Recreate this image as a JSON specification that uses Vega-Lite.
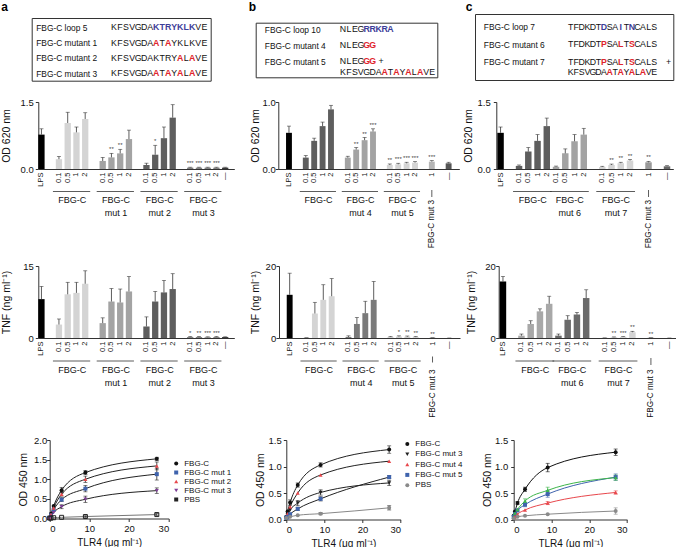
{
"$schema": "https://vega.github.io/schema/vega-lite/v6.json",
"padding": {"left": 0, "top": 0, "right": 0, "bottom": 0},
"background": "white",
"config": {
 "font": "Liberation Sans",
 "view": {"stroke": null},
 "axis": {"grid": false, "domainColor": "#333", "tickColor": "#333", "labelColor": "#111", "titleColor": "#111", "labelFont": "Liberation Sans", "titleFont": "Liberation Sans", "titleFontWeight": "normal", "labelFontSize": 9.5, "titleFontSize": 10.5, "tickSize": 3, "domainWidth": 1, "tickWidth": 1},
 "legend": {"labelFont": "Liberation Sans", "labelColor": "#111"}
},
"datasets": {
 "qA": [
  {"r":"L","i":0,"c":"K","k":"n"},{"r":"L","i":1,"c":"F","k":"n"},{"r":"L","i":2,"c":"S","k":"n"},{"r":"L","i":3,"c":"V","k":"n"},{"r":"L","i":4,"c":"G","k":"n"},{"r":"L","i":5,"c":"D","k":"n"},{"r":"L","i":6,"c":"A","k":"n"},{"r":"L","i":7,"c":"K","k":"l"},{"r":"L","i":8,"c":"T","k":"l"},{"r":"L","i":9,"c":"R","k":"l"},{"r":"L","i":10,"c":"Y","k":"l"},{"r":"L","i":11,"c":"K","k":"l"},{"r":"L","i":12,"c":"L","k":"l"},{"r":"L","i":13,"c":"K","k":"l"},{"r":"L","i":14,"c":"V","k":"n"},{"r":"L","i":15,"c":"E","k":"n"},
  {"r":"M1","i":0,"c":"K","k":"n"},{"r":"M1","i":1,"c":"F","k":"n"},{"r":"M1","i":2,"c":"S","k":"n"},{"r":"M1","i":3,"c":"V","k":"n"},{"r":"M1","i":4,"c":"G","k":"n"},{"r":"M1","i":5,"c":"D","k":"n"},{"r":"M1","i":6,"c":"A","k":"n"},{"r":"M1","i":7,"c":"A","k":"m"},{"r":"M1","i":8,"c":"T","k":"n"},{"r":"M1","i":9,"c":"A","k":"m"},{"r":"M1","i":10,"c":"Y","k":"n"},{"r":"M1","i":11,"c":"K","k":"n"},{"r":"M1","i":12,"c":"L","k":"n"},{"r":"M1","i":13,"c":"K","k":"n"},{"r":"M1","i":14,"c":"V","k":"n"},{"r":"M1","i":15,"c":"E","k":"n"},
  {"r":"M2","i":0,"c":"K","k":"n"},{"r":"M2","i":1,"c":"F","k":"n"},{"r":"M2","i":2,"c":"S","k":"n"},{"r":"M2","i":3,"c":"V","k":"n"},{"r":"M2","i":4,"c":"G","k":"n"},{"r":"M2","i":5,"c":"D","k":"n"},{"r":"M2","i":6,"c":"A","k":"n"},{"r":"M2","i":7,"c":"K","k":"n"},{"r":"M2","i":8,"c":"T","k":"n"},{"r":"M2","i":9,"c":"R","k":"n"},{"r":"M2","i":10,"c":"Y","k":"n"},{"r":"M2","i":11,"c":"A","k":"m"},{"r":"M2","i":12,"c":"L","k":"n"},{"r":"M2","i":13,"c":"A","k":"m"},{"r":"M2","i":14,"c":"V","k":"n"},{"r":"M2","i":15,"c":"E","k":"n"},
  {"r":"M3","i":0,"c":"K","k":"n"},{"r":"M3","i":1,"c":"F","k":"n"},{"r":"M3","i":2,"c":"S","k":"n"},{"r":"M3","i":3,"c":"V","k":"n"},{"r":"M3","i":4,"c":"G","k":"n"},{"r":"M3","i":5,"c":"D","k":"n"},{"r":"M3","i":6,"c":"A","k":"n"},{"r":"M3","i":7,"c":"A","k":"m"},{"r":"M3","i":8,"c":"T","k":"n"},{"r":"M3","i":9,"c":"A","k":"m"},{"r":"M3","i":10,"c":"Y","k":"n"},{"r":"M3","i":11,"c":"A","k":"m"},{"r":"M3","i":12,"c":"L","k":"n"},{"r":"M3","i":13,"c":"A","k":"m"},{"r":"M3","i":14,"c":"V","k":"n"},{"r":"M3","i":15,"c":"E","k":"n"}
 ],
 "qB": [
  {"r":"L","i":0,"c":"N","k":"n"},{"r":"L","i":1,"c":"L","k":"n"},{"r":"L","i":2,"c":"E","k":"n"},{"r":"L","i":3,"c":"G","k":"n"},{"r":"L","i":4,"c":"R","k":"l"},{"r":"L","i":5,"c":"R","k":"l"},{"r":"L","i":6,"c":"K","k":"l"},{"r":"L","i":7,"c":"R","k":"l"},{"r":"L","i":8,"c":"A","k":"l"},
  {"r":"M4","i":0,"c":"N","k":"n"},{"r":"M4","i":1,"c":"L","k":"n"},{"r":"M4","i":2,"c":"E","k":"n"},{"r":"M4","i":3,"c":"G","k":"n"},{"r":"M4","i":4,"c":"G","k":"m"},{"r":"M4","i":5,"c":"G","k":"m"},
  {"r":"M5","i":0,"c":"N","k":"n"},{"r":"M5","i":1,"c":"L","k":"n"},{"r":"M5","i":2,"c":"E","k":"n"},{"r":"M5","i":3,"c":"G","k":"n"},{"r":"M5","i":4,"c":"G","k":"m"},{"r":"M5","i":5,"c":"G","k":"m"},{"r":"M5","i":6.4,"c":"+","k":"n"},
  {"r":"M5","p":2,"i":0,"c":"K","k":"n"},{"r":"M5","p":2,"i":1,"c":"F","k":"n"},{"r":"M5","p":2,"i":2,"c":"S","k":"n"},{"r":"M5","p":2,"i":3,"c":"V","k":"n"},{"r":"M5","p":2,"i":4,"c":"G","k":"n"},{"r":"M5","p":2,"i":5,"c":"D","k":"n"},{"r":"M5","p":2,"i":6,"c":"A","k":"n"},{"r":"M5","p":2,"i":7,"c":"A","k":"m"},{"r":"M5","p":2,"i":8,"c":"T","k":"n"},{"r":"M5","p":2,"i":9,"c":"A","k":"m"},{"r":"M5","p":2,"i":10,"c":"Y","k":"n"},{"r":"M5","p":2,"i":11,"c":"A","k":"m"},{"r":"M5","p":2,"i":12,"c":"L","k":"n"},{"r":"M5","p":2,"i":13,"c":"A","k":"m"},{"r":"M5","p":2,"i":14,"c":"V","k":"n"},{"r":"M5","p":2,"i":15,"c":"E","k":"n"}
 ],
 "qC": [
  {"r":"L","i":0,"c":"T","k":"n"},{"r":"L","i":1,"c":"F","k":"n"},{"r":"L","i":2,"c":"D","k":"n"},{"r":"L","i":3,"c":"K","k":"n"},{"r":"L","i":4,"c":"D","k":"n"},{"r":"L","i":5,"c":"T","k":"n"},{"r":"L","i":6,"c":"D","k":"l"},{"r":"L","i":7,"c":"S","k":"n"},{"r":"L","i":8,"c":"A","k":"n"},{"r":"L","i":9,"c":"I","k":"l"},{"r":"L","i":10,"c":"T","k":"n"},{"r":"L","i":11,"c":"N","k":"l"},{"r":"L","i":12,"c":"C","k":"n"},{"r":"L","i":13,"c":"A","k":"n"},{"r":"L","i":14,"c":"L","k":"n"},{"r":"L","i":15,"c":"S","k":"n"},
  {"r":"M6","i":0,"c":"T","k":"n"},{"r":"M6","i":1,"c":"F","k":"n"},{"r":"M6","i":2,"c":"D","k":"n"},{"r":"M6","i":3,"c":"K","k":"n"},{"r":"M6","i":4,"c":"D","k":"n"},{"r":"M6","i":5,"c":"T","k":"n"},{"r":"M6","i":6,"c":"P","k":"m"},{"r":"M6","i":7,"c":"S","k":"n"},{"r":"M6","i":8,"c":"A","k":"n"},{"r":"M6","i":9,"c":"L","k":"m"},{"r":"M6","i":10,"c":"T","k":"n"},{"r":"M6","i":11,"c":"S","k":"m"},{"r":"M6","i":12,"c":"C","k":"n"},{"r":"M6","i":13,"c":"A","k":"n"},{"r":"M6","i":14,"c":"L","k":"n"},{"r":"M6","i":15,"c":"S","k":"n"},
  {"r":"M7","i":0,"c":"T","k":"n"},{"r":"M7","i":1,"c":"F","k":"n"},{"r":"M7","i":2,"c":"D","k":"n"},{"r":"M7","i":3,"c":"K","k":"n"},{"r":"M7","i":4,"c":"D","k":"n"},{"r":"M7","i":5,"c":"T","k":"n"},{"r":"M7","i":6,"c":"P","k":"m"},{"r":"M7","i":7,"c":"S","k":"n"},{"r":"M7","i":8,"c":"A","k":"n"},{"r":"M7","i":9,"c":"L","k":"m"},{"r":"M7","i":10,"c":"T","k":"n"},{"r":"M7","i":11,"c":"S","k":"m"},{"r":"M7","i":12,"c":"C","k":"n"},{"r":"M7","i":13,"c":"A","k":"n"},{"r":"M7","i":14,"c":"L","k":"n"},{"r":"M7","i":15,"c":"S","k":"n"},{"r":"M7","i":17.6,"c":"+","k":"n"},
  {"r":"M7","p":2,"i":0,"c":"K","k":"n"},{"r":"M7","p":2,"i":1,"c":"F","k":"n"},{"r":"M7","p":2,"i":2,"c":"S","k":"n"},{"r":"M7","p":2,"i":3,"c":"V","k":"n"},{"r":"M7","p":2,"i":4,"c":"G","k":"n"},{"r":"M7","p":2,"i":5,"c":"D","k":"n"},{"r":"M7","p":2,"i":6,"c":"A","k":"n"},{"r":"M7","p":2,"i":7,"c":"A","k":"m"},{"r":"M7","p":2,"i":8,"c":"T","k":"n"},{"r":"M7","p":2,"i":9,"c":"A","k":"m"},{"r":"M7","p":2,"i":10,"c":"Y","k":"n"},{"r":"M7","p":2,"i":11,"c":"A","k":"m"},{"r":"M7","p":2,"i":12,"c":"L","k":"n"},{"r":"M7","p":2,"i":13,"c":"A","k":"m"},{"r":"M7","p":2,"i":14,"c":"V","k":"n"},{"r":"M7","p":2,"i":15,"c":"E","k":"n"}
 ],
 "oA": [
  {"k":"LPS","g":"LPS","v":0.77,"h":0.9},
  {"k":"F|0.1","g":"F","v":0.22,"h":0.28},{"k":"F|0.5","g":"F","v":1.03,"h":1.27},{"k":"F|1","g":"F","v":0.82,"h":0.94},{"k":"F|2","g":"F","v":1.12,"h":1.26},
  {"k":"m1|0.1","g":"m1","v":0.18,"h":0.26},{"k":"m1|0.5","g":"m1","v":0.26,"h":0.35,"s":"**"},{"k":"m1|1","g":"m1","v":0.35,"h":0.44,"s":"**"},{"k":"m1|2","g":"m1","v":0.67,"h":0.87},
  {"k":"m2|0.1","g":"m2","v":0.09,"h":0.13},{"k":"m2|0.5","g":"m2","v":0.32,"h":0.53,"s":"*"},{"k":"m2|1","g":"m2","v":0.69,"h":0.94},{"k":"m2|2","g":"m2","v":1.15,"h":1.44},
  {"k":"m3|0.1","g":"m3","v":0.03,"h":0.04,"s":"***"},{"k":"m3|0.5","g":"m3","v":0.03,"h":0.04,"s":"***"},{"k":"m3|1","g":"m3","v":0.03,"h":0.04,"s":"***"},{"k":"m3|2","g":"m3","v":0.03,"h":0.04,"s":"***"},
  {"k":"—","g":"neg","v":0.03,"h":0.04}
 ],
 "tA": [
  {"k":"LPS","g":"LPS","v":8.1,"h":10.75},
  {"k":"F|0.1","g":"F","v":2.8,"h":3.96},{"k":"F|0.5","g":"F","v":9.1,"h":11.6},{"k":"F|1","g":"F","v":9.4,"h":11.6},{"k":"F|2","g":"F","v":11.3,"h":14.0},
  {"k":"m1|0.1","g":"m1","v":3.1,"h":4.2},{"k":"m1|0.5","g":"m1","v":7.6,"h":10.3},{"k":"m1|1","g":"m1","v":7.4,"h":10.2},{"k":"m1|2","g":"m1","v":9.7,"h":12.8},
  {"k":"m2|0.1","g":"m2","v":2.4,"h":4.4},{"k":"m2|0.5","g":"m2","v":7.6,"h":9.7},{"k":"m2|1","g":"m2","v":9.5,"h":12.0},{"k":"m2|2","g":"m2","v":10.2,"h":13.4},
  {"k":"m3|0.1","g":"m3","v":0.2,"h":0.3,"s":"*"},{"k":"m3|0.5","g":"m3","v":0.2,"h":0.3,"s":"**"},{"k":"m3|1","g":"m3","v":0.15,"h":0.25,"s":"***"},{"k":"m3|2","g":"m3","v":0.2,"h":0.3,"s":"***"},
  {"k":"—","g":"neg","v":0.2,"h":0.25}
 ],
 "oB": [
  {"k":"LPS","g":"LPS","v":0.54,"h":0.64},
  {"k":"F|0.1","g":"F","v":0.17,"h":0.2},{"k":"F|0.5","g":"F","v":0.42,"h":0.46},{"k":"F|1","g":"F","v":0.64,"h":0.7},{"k":"F|2","g":"F","v":0.89,"h":0.95},
  {"k":"m4|0.1","g":"m4","v":0.17,"h":0.19},{"k":"m4|0.5","g":"m4","v":0.29,"h":0.32,"s":"**"},{"k":"m4|1","g":"m4","v":0.43,"h":0.47,"s":"**"},{"k":"m4|2","g":"m4","v":0.56,"h":0.6,"s":"***"},
  {"k":"m5|0.1","g":"m5","v":0.06,"h":0.075,"s":"**"},{"k":"m5|0.5","g":"m5","v":0.07,"h":0.085,"s":"***"},{"k":"m5|1","g":"m5","v":0.085,"h":0.1,"s":"***"},{"k":"m5|2","g":"m5","v":0.095,"h":0.11,"s":"***"},
  {"k":"m3|1","g":"m3","v":0.11,"h":0.125,"s":"***"},
  {"k":"—","g":"neg","v":0.085,"h":0.1}
 ],
 "tB": [
  {"k":"LPS","g":"LPS","v":12.0,"h":18.0},
  {"k":"F|0.1","g":"F","v":0.1,"h":0.1},{"k":"F|0.5","g":"F","v":6.8,"h":9.9},{"k":"F|1","g":"F","v":10.6,"h":14.8},{"k":"F|2","g":"F","v":11.6,"h":16.5},
  {"k":"m4|0.1","g":"m4","v":0.3,"h":0.6},{"k":"m4|0.5","g":"m4","v":3.9,"h":5.7},{"k":"m4|1","g":"m4","v":6.9,"h":10.2},{"k":"m4|2","g":"m4","v":10.6,"h":15.7},
  {"k":"m5|0.1","g":"m5","v":0.3,"h":0.45},{"k":"m5|0.5","g":"m5","v":0.4,"h":0.6,"s":"*"},{"k":"m5|1","g":"m5","v":0.35,"h":0.55,"s":"**"},{"k":"m5|2","g":"m5","v":0.25,"h":0.4,"s":"**"},
  {"k":"m3|1","g":"m3","v":0.1,"h":0.1,"s":"**"},
  {"k":"—","g":"neg","v":0,"h":0}
 ],
 "oC": [
  {"k":"LPS","g":"LPS","v":0.81,"h":0.94},
  {"k":"F|0.1","g":"F","v":0.07,"h":0.09},{"k":"F|0.5","g":"F","v":0.39,"h":0.48},{"k":"F|1","g":"F","v":0.63,"h":0.77},{"k":"F|2","g":"F","v":0.96,"h":1.14},
  {"k":"m6|0.1","g":"m6","v":0.05,"h":0.065},{"k":"m6|0.5","g":"m6","v":0.35,"h":0.45},{"k":"m6|1","g":"m6","v":0.62,"h":0.77},{"k":"m6|2","g":"m6","v":0.77,"h":0.91},
  {"k":"m7|0.1","g":"m7","v":0.045,"h":0.06},{"k":"m7|0.5","g":"m7","v":0.09,"h":0.11,"s":"**"},{"k":"m7|1","g":"m7","v":0.13,"h":0.15,"s":"**"},{"k":"m7|2","g":"m7","v":0.19,"h":0.21,"s":"**"},
  {"k":"m3|1","g":"m3","v":0.15,"h":0.17,"s":"**"},
  {"k":"—","g":"neg","v":0.06,"h":0.075}
 ],
 "tC": [
  {"k":"LPS","g":"LPS","v":15.7,"h":17.1},
  {"k":"F|0.1","g":"F","v":0.65,"h":1.1},{"k":"F|0.5","g":"F","v":3.9,"h":4.8},{"k":"F|1","g":"F","v":7.4,"h":8.1},{"k":"F|2","g":"F","v":9.5,"h":11.6},
  {"k":"m6|0.1","g":"m6","v":0.65,"h":1.1},{"k":"m6|0.5","g":"m6","v":5.1,"h":6.2},{"k":"m6|1","g":"m6","v":6.5,"h":7.1},{"k":"m6|2","g":"m6","v":11.1,"h":13.4},
  {"k":"m7|0.1","g":"m7","v":0.05,"h":0.05},{"k":"m7|0.5","g":"m7","v":0.2,"h":0.3,"s":"**"},{"k":"m7|1","g":"m7","v":0.3,"h":0.4,"s":"***"},{"k":"m7|2","g":"m7","v":1.6,"h":1.85,"s":"**"},
  {"k":"m3|1","g":"m3","v":0.1,"h":0.1,"s":"**"},
  {"k":"—","g":"neg","v":0,"h":0}
 ],
 "gA": [{"f":"F|0.1","l":"F|2","m":"F|0.5","t":"FBG-C"},{"f":"m1|0.1","l":"m1|2","m":"m1|0.5","t":"FBG-C\nmut 1"},{"f":"m2|0.1","l":"m2|2","m":"m2|0.5","t":"FBG-C\nmut 2"},{"f":"m3|0.1","l":"m3|2","m":"m3|0.5","t":"FBG-C\nmut 3"}],
 "gB": [{"f":"F|0.1","l":"F|2","m":"F|0.5","t":"FBG-C"},{"f":"m4|0.1","l":"m4|2","m":"m4|0.5","t":"FBG-C\nmut 4"},{"f":"m5|0.1","l":"m5|2","m":"m5|0.5","t":"FBG-C\nmut 5"}],
 "gC": [{"f":"F|0.1","l":"F|2","m":"F|0.5","t":"FBG-C"},{"f":"m6|0.1","l":"m6|2","m":"m6|0.5","t":"FBG-C\nmut 6"},{"f":"m7|0.1","l":"m7|2","m":"m7|0.5","t":"FBG-C\nmut 7"}],
 "sB": [{"m":"m3|1","t":"FBG-C mut 3"}],
 "sC": [{"m":"m3|1","t":"FBG-C mut 3"}],
 "lA": [
  {"s":"FBG-C","x":0,"v":0.02},{"s":"FBG-C","x":0.33,"v":0.12},{"s":"FBG-C","x":1,"v":0.32},{"s":"FBG-C","x":3,"v":0.72,"lo":0.65,"hi":0.79},{"s":"FBG-C","x":9,"v":1.17,"lo":1.12,"hi":1.22},{"s":"FBG-C","x":27,"v":1.52,"lo":1.48,"hi":1.56},
  {"s":"FBG-C mut 1","x":0,"v":0.02},{"s":"FBG-C mut 1","x":0.33,"v":0.08},{"s":"FBG-C mut 1","x":1,"v":0.22},{"s":"FBG-C mut 1","x":3,"v":0.48,"lo":0.43,"hi":0.53},{"s":"FBG-C mut 1","x":9,"v":0.76,"lo":0.68,"hi":0.84},{"s":"FBG-C mut 1","x":27,"v":1.13,"lo":0.98,"hi":1.28},
  {"s":"FBG-C mut 2","x":0,"v":0.02},{"s":"FBG-C mut 2","x":0.33,"v":0.1},{"s":"FBG-C mut 2","x":1,"v":0.27},{"s":"FBG-C mut 2","x":3,"v":0.62,"lo":0.57,"hi":0.67},{"s":"FBG-C mut 2","x":9,"v":1.0,"lo":0.92,"hi":1.08},{"s":"FBG-C mut 2","x":27,"v":1.34,"lo":1.24,"hi":1.44},
  {"s":"FBG-C mut 3","x":0,"v":0.01},{"s":"FBG-C mut 3","x":0.33,"v":0.05},{"s":"FBG-C mut 3","x":1,"v":0.15},{"s":"FBG-C mut 3","x":3,"v":0.3,"lo":0.25,"hi":0.35},{"s":"FBG-C mut 3","x":9,"v":0.49,"lo":0.41,"hi":0.57},{"s":"FBG-C mut 3","x":27,"v":0.71,"lo":0.64,"hi":0.78},
  {"s":"PBS","x":0,"v":0.01},{"s":"PBS","x":0.33,"v":0.01},{"s":"PBS","x":1,"v":0.02},{"s":"PBS","x":3,"v":0.03},{"s":"PBS","x":9,"v":0.05,"lo":0.03,"hi":0.07},{"s":"PBS","x":27,"v":0.1,"lo":0.07,"hi":0.13}
 ],
 "lB": [
  {"s":"FBG-C","x":0,"v":0.05},{"s":"FBG-C","x":0.33,"v":0.15},{"s":"FBG-C","x":1,"v":0.32,"lo":0.27,"hi":0.37},{"s":"FBG-C","x":3,"v":0.65,"lo":0.61,"hi":0.69},{"s":"FBG-C","x":9,"v":1.03,"lo":0.99,"hi":1.07},{"s":"FBG-C","x":27,"v":1.32,"lo":1.25,"hi":1.39},
  {"s":"FBG-C mut 3","x":0,"v":0.04},{"s":"FBG-C mut 3","x":0.33,"v":0.09},{"s":"FBG-C mut 3","x":1,"v":0.18},{"s":"FBG-C mut 3","x":3,"v":0.31,"lo":0.26,"hi":0.36},{"s":"FBG-C mut 3","x":9,"v":0.51,"lo":0.46,"hi":0.56},{"s":"FBG-C mut 3","x":27,"v":0.69,"lo":0.64,"hi":0.74},
  {"s":"FBG-C mut 4","x":0,"v":0.05},{"s":"FBG-C mut 4","x":0.33,"v":0.11},{"s":"FBG-C mut 4","x":1,"v":0.24},{"s":"FBG-C mut 4","x":3,"v":0.5},{"s":"FBG-C mut 4","x":9,"v":0.84},{"s":"FBG-C mut 4","x":27,"v":1.1},
  {"s":"FBG-C mut 5","x":0,"v":0.03},{"s":"FBG-C mut 5","x":0.33,"v":0.05},{"s":"FBG-C mut 5","x":1,"v":0.1},{"s":"FBG-C mut 5","x":3,"v":0.2,"lo":0.17,"hi":0.23},{"s":"FBG-C mut 5","x":9,"v":0.39,"lo":0.35,"hi":0.43},{"s":"FBG-C mut 5","x":27,"v":0.8,"lo":0.77,"hi":0.83},
  {"s":"PBS","x":0,"v":0.03},{"s":"PBS","x":1,"v":0.05},{"s":"PBS","x":3,"v":0.08},{"s":"PBS","x":9,"v":0.11,"lo":0.09,"hi":0.13},{"s":"PBS","x":27,"v":0.22,"lo":0.18,"hi":0.26}
 ],
 "lC": [
  {"s":"FBG-C","x":0,"v":0.07},{"s":"FBG-C","x":0.33,"v":0.15},{"s":"FBG-C","x":1,"v":0.31,"lo":0.28,"hi":0.34},{"s":"FBG-C","x":3,"v":0.57,"lo":0.53,"hi":0.61},{"s":"FBG-C","x":9,"v":0.98,"lo":0.9,"hi":1.06},{"s":"FBG-C","x":27,"v":1.27,"lo":1.21,"hi":1.33},
  {"s":"FBG-C mut 3","x":0,"v":0.05},{"s":"FBG-C mut 3","x":0.33,"v":0.1},{"s":"FBG-C mut 3","x":1,"v":0.17},{"s":"FBG-C mut 3","x":3,"v":0.28,"lo":0.24,"hi":0.32},{"s":"FBG-C mut 3","x":9,"v":0.48,"lo":0.42,"hi":0.54},{"s":"FBG-C mut 3","x":27,"v":0.8,"lo":0.74,"hi":0.86},
  {"s":"FBG-C mut 6","x":0,"v":0.05},{"s":"FBG-C mut 6","x":0.33,"v":0.12},{"s":"FBG-C mut 6","x":1,"v":0.19},{"s":"FBG-C mut 6","x":3,"v":0.35,"lo":0.31,"hi":0.39},{"s":"FBG-C mut 6","x":9,"v":0.55,"lo":0.49,"hi":0.61},{"s":"FBG-C mut 6","x":27,"v":0.79,"lo":0.74,"hi":0.84},
  {"s":"FBG-C mut 7","x":0,"v":0.03},{"s":"FBG-C mut 7","x":0.33,"v":0.05},{"s":"FBG-C mut 7","x":1,"v":0.1},{"s":"FBG-C mut 7","x":3,"v":0.18},{"s":"FBG-C mut 7","x":9,"v":0.31,"lo":0.28,"hi":0.34},{"s":"FBG-C mut 7","x":27,"v":0.51,"lo":0.48,"hi":0.54},
  {"s":"PBS","x":0,"v":0.02},{"s":"PBS","x":1,"v":0.05},{"s":"PBS","x":3,"v":0.07},{"s":"PBS","x":9,"v":0.1},{"s":"PBS","x":27,"v":0.16,"lo":0.1,"hi":0.22}
 ]
},
"columns": 1, "align": "none", "spacing": 15,
"resolve": {"scale": {"color": "independent", "shape": "independent", "x": "independent", "y": "independent"}},
"concat": [
 {"columns": 2, "align": "none", "spacing": 36.7, "resolve": {"scale": {"color": "independent", "shape": "independent", "x": "independent", "y": "independent"}},
  "concat": [
  {"columns": 2, "align": "none", "spacing": 20.7, "resolve": {"scale": {"color": "independent", "shape": "independent", "x": "independent", "y": "independent"}},
   "concat": [
   {"width": 9.4, "height": 14, "data": {"values": [{"t": "a"}]}, "mark": {"type": "text", "fontSize": 12, "fontWeight": "bold", "color": "#000"}, "encoding": {"text": {"field": "t"}}},
   {"columns": 1, "align": "none", "spacing": 0, "resolve": {"scale": {"color": "independent", "shape": "independent", "x": "independent", "y": "independent"}},
    "concat": [
    {"width": 1, "height": 17, "view": {"fill": "white"}, "data": {"values": []}, "mark": {"type": "point", "opacity": 0}},
    {"width": 179, "height": 62.7, "view": {"stroke": "#333", "strokeWidth": 1},
     "data": {"name": "qA"},
     "encoding": {
      "x": {"field": "i", "type": "quantitative", "scale": {"domain": [-13.67, 16.06], "nice": false, "zero": false}, "axis": null},
      "y": {"field": "r", "type": "nominal", "scale": {"type": "point", "domain": ["L","M1","M2","M3"], "padding": 0.545, "align": 0.557}, "axis": {"title": null, "domain": false, "ticks": false, "tickSize": 0, "labelAlign": "left", "labelPadding": -4, "labelFontSize": 8.4, "labelExpr": "{'L':'FBG-C loop 5','M1':'FBG-C mutant 1','M2':'FBG-C mutant 2','M3':'FBG-C mutant 3'}[datum.value]"}},
      "text": {"field": "c"},
      "color": {"field": "k", "type": "nominal", "scale": {"domain": ["n","l","m"], "range": ["#111111","#3d3d99","#e0242b"]}, "legend": null}
     },
     "layer": [
      {"transform": [{"filter": "datum.k=='n'"}], "mark": {"type": "text", "fontSize": 8.8}},
      {"transform": [{"filter": "datum.k!='n'"}], "mark": {"type": "text", "fontSize": 8.8, "fontWeight": "bold"}}
     ]
    }
   ]}
  ]},
  {"columns": 2, "align": "none", "spacing": 26.5, "resolve": {"scale": {"color": "independent", "shape": "independent", "x": "independent", "y": "independent"}},
   "concat": [
   {"columns": 1, "align": "none", "spacing": 7.7, "resolve": {"scale": {"color": "independent", "shape": "independent", "x": "independent", "y": "independent"}},
    "concat": [
    {"width": 1, "height": 14, "data": {"values": [{"t": "b"}]}, "mark": {"type": "text", "fontSize": 12, "fontWeight": "bold", "align": "right", "color": "#000"}, "encoding": {"text": {"field": "t"}}},
    {"width": 181.6, "height": 54.6, "view": {"stroke": "#333", "strokeWidth": 1},
     "data": {"name": "qB"},
     "encoding": {
      "x": {"field": "i", "type": "quantitative", "scale": {"domain": [-14.7, 15.88], "nice": false, "zero": false}, "axis": null},
      "y": {"field": "r", "type": "nominal", "scale": {"type": "point", "domain": ["L","M4","M5"], "padding": 0.722, "align": 0.288}, "axis": {"title": null, "domain": false, "ticks": false, "tickSize": 0, "labelAlign": "left", "labelPadding": -8.6, "labelFontSize": 8.4, "labelExpr": "{'L':'FBG-C loop 10','M4':'FBG-C mutant 4','M5':'FBG-C mutant 5'}[datum.value]"}},
      "text": {"field": "c"},
      "color": {"field": "k", "type": "nominal", "scale": {"domain": ["n","l","m"], "range": ["#111111","#3d3d99","#e0242b"]}, "legend": null}
     },
     "layer": [
      {"transform": [{"filter": "datum.k=='n' && datum.p!=2"}], "mark": {"type": "text", "fontSize": 8.8}},
      {"transform": [{"filter": "datum.k!='n' && datum.p!=2"}], "mark": {"type": "text", "fontSize": 8.8, "fontWeight": "bold"}},
      {"transform": [{"filter": "datum.k=='n' && datum.p==2"}], "mark": {"type": "text", "fontSize": 8.8, "dy": 10.7}},
      {"transform": [{"filter": "datum.k!='n' && datum.p==2"}], "mark": {"type": "text", "fontSize": 8.8, "fontWeight": "bold", "dy": 10.7}}
     ]
    }
   ]},
   {"columns": 2, "align": "none", "spacing": 0.8, "resolve": {"scale": {"color": "independent", "shape": "independent", "x": "independent", "y": "independent"}},
    "concat": [
    {"width": 8, "height": 14, "data": {"values": [{"t": "c"}]}, "mark": {"type": "text", "fontSize": 12, "fontWeight": "bold", "color": "#000"}, "encoding": {"text": {"field": "t"}}},
    {"columns": 1, "align": "none", "spacing": 0, "resolve": {"scale": {"color": "independent", "shape": "independent", "x": "independent", "y": "independent"}},
     "concat": [
     {"width": 1, "height": 13, "view": {"fill": "white"}, "data": {"values": []}, "mark": {"type": "point", "opacity": 0}},
     {"width": 198.3, "height": 66, "view": {"stroke": "#333", "strokeWidth": 1},
      "data": {"name": "qC"},
      "encoding": {
       "x": {"field": "i", "type": "quantitative", "scale": {"domain": [-17.18, 18.44], "nice": false, "zero": false}, "axis": null},
       "y": {"field": "r", "type": "nominal", "scale": {"type": "point", "domain": ["L","M6","M7"], "padding": 0.886, "align": 0.41}, "axis": {"title": null, "domain": false, "ticks": false, "tickSize": 0, "labelAlign": "left", "labelPadding": -8.3, "labelFontSize": 8.4, "labelExpr": "{'L':'FBG-C loop 7','M6':'FBG-C mutant 6','M7':'FBG-C mutant 7'}[datum.value]"}},
       "text": {"field": "c"},
       "color": {"field": "k", "type": "nominal", "scale": {"domain": ["n","l","m"], "range": ["#111111","#3d3d99","#e0242b"]}, "legend": null}
      },
      "layer": [
       {"transform": [{"filter": "datum.k=='n' && datum.p!=2"}], "mark": {"type": "text", "fontSize": 8.8}},
       {"transform": [{"filter": "datum.k!='n' && datum.p!=2"}], "mark": {"type": "text", "fontSize": 8.8, "fontWeight": "bold"}},
       {"transform": [{"filter": "datum.k=='n' && datum.p==2"}], "mark": {"type": "text", "fontSize": 8.8, "dy": 10}},
       {"transform": [{"filter": "datum.k!='n' && datum.p==2"}], "mark": {"type": "text", "fontSize": 8.8, "fontWeight": "bold", "dy": 10}}
      ]
     }
    ]}
   ]}
  ]}
 ]},
 {"columns": 1, "align": "none", "spacing": 12, "resolve": {"scale": {"color": "independent", "shape": "independent", "x": "independent", "y": "independent"}},
  "concat": [
  {"columns": 2, "align": "none", "spacing": 0.3, "resolve": {"scale": {"color": "independent", "shape": "independent", "x": "independent", "y": "independent"}},
   "concat": [
   {"width": 1, "height": 1, "view": {"fill": "white"}, "data": {"values": []}, "mark": {"type": "point", "opacity": 0}},
   {"columns": 2, "align": "none", "spacing": 15, "resolve": {"scale": {"color": "independent", "shape": "independent", "x": "independent", "y": "independent"}},
    "concat": [
    {"width": 196, "height": 67,
     "layer": [
      {"data": {"name": "oA"}, "mark": {"type": "bar"},
       "encoding": {
        "x": {"field": "k", "type": "nominal", "scale": {"domain": ["LPS","_1","F|0.1","F|0.5","F|1","F|2","_2","m1|0.1","m1|0.5","m1|1","m1|2","_3","m2|0.1","m2|0.5","m2|1","m2|2","_4","m3|0.1","m3|0.5","m3|1","m3|2","—"], "paddingInner": 0.28, "paddingOuter": 0.34, "align": 0},
              "axis": {"title": null, "labelAngle": -90, "ticks": false, "labelPadding": 3, "labelFontSize": 7.5, "labelOverlap": false, "labelExpr": "indexof(datum.value,'_')==0 ? '' : (indexof(datum.value,'|')>0 ? split(datum.value,'|')[1] : datum.value)"}},
        "y": {"field": "v", "type": "quantitative", "scale": {"domain": [0, 1.5], "nice": false}, "axis": {"title": "OD 620 nm", "values": [0, 0.5, 1, 1.5], "format": ".1f", "labelPadding": 2, "minExtent": 24.5, "maxExtent": 24.5, "titlePadding": 2, "labelOverlap": false}},
        "color": {"field": "g", "type": "nominal", "scale": {"domain": ["LPS","F","m1","m2","m3","neg"], "range": ["#000000","#d4d4d4","#a3a3a3","#5e5e5e","#808080","#3a3a3a"]}, "legend": null}
       }},
      {"data": {"name": "oA"}, "mark": {"type": "rule", "color": "#333", "strokeWidth": 0.8}, "encoding": {"x": {"field": "k", "type": "nominal"}, "y": {"field": "v", "type": "quantitative"}, "y2": {"field": "h"}}},
      {"data": {"name": "oA"}, "mark": {"type": "tick", "color": "#333", "size": 4, "thickness": 0.8}, "encoding": {"x": {"field": "k", "type": "nominal"}, "y": {"field": "h", "type": "quantitative"}}},
      {"data": {"name": "oA"}, "transform": [{"filter": "datum.s"}], "mark": {"type": "text", "fontSize": 6, "dy": -4, "color": "#444"}, "encoding": {"x": {"field": "k", "type": "nominal"}, "y": {"field": "h", "type": "quantitative"}, "text": {"field": "s"}}},
      {"data": {"name": "gA"}, "mark": {"type": "rule", "color": "#333", "strokeWidth": 0.8, "xOffset": -6, "x2Offset": 5, "yOffset": 22.5}, "encoding": {"x": {"field": "f", "type": "nominal"}, "x2": {"field": "l"}, "y": {"value": "height"}}},
      {"data": {"name": "gA"}, "mark": {"type": "text", "fontSize": 9, "baseline": "top", "lineBreak": "\n", "lineHeight": 13.3, "yOffset": 27, "dx": 1.3, "color": "#111"}, "encoding": {"x": {"field": "m", "type": "nominal", "bandPosition": 1}, "y": {"value": "height"}, "text": {"field": "t"}}}
     ]
    },
    {"columns": 2, "align": "none", "spacing": 4, "resolve": {"scale": {"color": "independent", "shape": "independent", "x": "independent", "y": "independent"}},
     "concat": [
     {"width": 181, "height": 67,
      "layer": [
       {"data": {"name": "oB"}, "mark": {"type": "bar"},
        "encoding": {
         "x": {"field": "k", "type": "nominal", "scale": {"domain": ["LPS","_1","F|0.1","F|0.5","F|1","F|2","_2","m4|0.1","m4|0.5","m4|1","m4|2","_3","m5|0.1","m5|0.5","m5|1","m5|2","_4","m3|1","_5","—"], "paddingInner": 0.3, "paddingOuter": 0.92, "align": 0.5},
               "axis": {"title": null, "labelAngle": -90, "ticks": false, "labelPadding": 3, "labelFontSize": 7.5, "labelOverlap": false, "labelExpr": "indexof(datum.value,'_')==0 ? '' : (indexof(datum.value,'|')>0 ? split(datum.value,'|')[1] : datum.value)"}},
         "y": {"field": "v", "type": "quantitative", "scale": {"domain": [0, 1], "nice": false}, "axis": {"title": "OD 620 nm", "values": [0, 0.2, 0.4, 0.6, 0.8, 1], "format": ".1f", "labelPadding": 0, "minExtent": 16.3, "maxExtent": 16.3, "titlePadding": 2, "labelOverlap": false}},
         "color": {"field": "g", "type": "nominal", "scale": {"domain": ["LPS","F","m4","m5","m3","neg"], "range": ["#000000","#5e5e5e","#a3a3a3","#d4d4d4","#b5b5b5","#555555"]}, "legend": null}
        }},
       {"data": {"name": "oB"}, "mark": {"type": "rule", "color": "#333", "strokeWidth": 0.8}, "encoding": {"x": {"field": "k", "type": "nominal"}, "y": {"field": "v", "type": "quantitative"}, "y2": {"field": "h"}}},
       {"data": {"name": "oB"}, "mark": {"type": "tick", "color": "#333", "size": 4, "thickness": 0.8}, "encoding": {"x": {"field": "k", "type": "nominal"}, "y": {"field": "h", "type": "quantitative"}}},
       {"data": {"name": "oB"}, "transform": [{"filter": "datum.s"}], "mark": {"type": "text", "fontSize": 6, "dy": -4, "color": "#444"}, "encoding": {"x": {"field": "k", "type": "nominal"}, "y": {"field": "h", "type": "quantitative"}, "text": {"field": "s"}}},
       {"data": {"name": "gB"}, "mark": {"type": "rule", "color": "#333", "strokeWidth": 0.8, "xOffset": -6, "x2Offset": 5, "yOffset": 22.5}, "encoding": {"x": {"field": "f", "type": "nominal"}, "x2": {"field": "l"}, "y": {"value": "height"}}},
       {"data": {"name": "gB"}, "mark": {"type": "text", "fontSize": 9, "baseline": "top", "lineBreak": "\n", "lineHeight": 13.3, "yOffset": 27, "dx": 1.3, "color": "#111"}, "encoding": {"x": {"field": "m", "type": "nominal", "bandPosition": 1}, "y": {"value": "height"}, "text": {"field": "t"}}},
       {"data": {"name": "sB"}, "mark": {"type": "rule", "color": "#333", "strokeWidth": 0.8, "yOffset": 21, "y2Offset": 28}, "encoding": {"x": {"field": "m", "type": "nominal"}, "y": {"value": "height"}, "y2": {"value": "height"}}},
       {"data": {"name": "sB"}, "mark": {"type": "text", "fontSize": 8.2, "angle": 270, "align": "right", "baseline": "middle", "yOffset": 31, "color": "#111"}, "encoding": {"x": {"field": "m", "type": "nominal"}, "y": {"value": "height"}, "text": {"field": "t"}}}
      ]
     },
     {"width": 177, "height": 67,
      "layer": [
       {"data": {"name": "oC"}, "mark": {"type": "bar"},
        "encoding": {
         "x": {"field": "k", "type": "nominal", "scale": {"domain": ["LPS","_1","F|0.1","F|0.5","F|1","F|2","m6|0.1","m6|0.5","m6|1","m6|2","_2","m7|0.1","m7|0.5","m7|1","m7|2","_3","m3|1","_4","—"], "paddingInner": 0.3, "paddingOuter": 0.22, "align": 0.25},
               "axis": {"title": null, "labelAngle": -90, "ticks": false, "labelPadding": 3, "labelFontSize": 7.5, "labelOverlap": false, "labelExpr": "indexof(datum.value,'_')==0 ? '' : (indexof(datum.value,'|')>0 ? split(datum.value,'|')[1] : datum.value)"}},
         "y": {"field": "v", "type": "quantitative", "scale": {"domain": [0, 1.5], "nice": false}, "axis": {"title": "OD 620 nm", "values": [0, 0.5, 1, 1.5], "format": ".1f", "labelPadding": 3, "minExtent": 20.8, "maxExtent": 20.8, "titlePadding": 2, "labelOverlap": false}},
         "color": {"field": "g", "type": "nominal", "scale": {"domain": ["LPS","F","m6","m7","m3","neg"], "range": ["#000000","#5e5e5e","#a3a3a3","#d4d4d4","#999999","#666666"]}, "legend": null}
        }},
       {"data": {"name": "oC"}, "mark": {"type": "rule", "color": "#333", "strokeWidth": 0.8}, "encoding": {"x": {"field": "k", "type": "nominal"}, "y": {"field": "v", "type": "quantitative"}, "y2": {"field": "h"}}},
       {"data": {"name": "oC"}, "mark": {"type": "tick", "color": "#333", "size": 4, "thickness": 0.8}, "encoding": {"x": {"field": "k", "type": "nominal"}, "y": {"field": "h", "type": "quantitative"}}},
       {"data": {"name": "oC"}, "transform": [{"filter": "datum.s"}], "mark": {"type": "text", "fontSize": 6, "dy": -4, "color": "#444"}, "encoding": {"x": {"field": "k", "type": "nominal"}, "y": {"field": "h", "type": "quantitative"}, "text": {"field": "s"}}},
       {"data": {"name": "gC"}, "mark": {"type": "rule", "color": "#333", "strokeWidth": 0.8, "xOffset": -6, "x2Offset": 5, "yOffset": 22.5}, "encoding": {"x": {"field": "f", "type": "nominal"}, "x2": {"field": "l"}, "y": {"value": "height"}}},
       {"data": {"name": "gC"}, "mark": {"type": "text", "fontSize": 9, "baseline": "top", "lineBreak": "\n", "lineHeight": 13.3, "yOffset": 27, "dx": 1.3, "color": "#111"}, "encoding": {"x": {"field": "m", "type": "nominal", "bandPosition": 1}, "y": {"value": "height"}, "text": {"field": "t"}}},
       {"data": {"name": "sC"}, "mark": {"type": "rule", "color": "#333", "strokeWidth": 0.8, "yOffset": 21, "y2Offset": 28}, "encoding": {"x": {"field": "m", "type": "nominal"}, "y": {"value": "height"}, "y2": {"value": "height"}}},
       {"data": {"name": "sC"}, "mark": {"type": "text", "fontSize": 8.2, "angle": 270, "align": "right", "baseline": "middle", "yOffset": 31, "color": "#111"}, "encoding": {"x": {"field": "m", "type": "nominal"}, "y": {"value": "height"}, "text": {"field": "t"}}}
      ]
     }
    ]}
   ]}
  ]},
  {"columns": 1, "align": "none", "spacing": 17, "resolve": {"scale": {"color": "independent", "shape": "independent", "x": "independent", "y": "independent"}},
   "concat": [
   {"columns": 2, "align": "none", "spacing": 0.3, "resolve": {"scale": {"color": "independent", "shape": "independent", "x": "independent", "y": "independent"}},
    "concat": [
    {"width": 1, "height": 1, "view": {"fill": "white"}, "data": {"values": []}, "mark": {"type": "point", "opacity": 0}},
    {"columns": 2, "align": "none", "spacing": 14.7, "resolve": {"scale": {"color": "independent", "shape": "independent", "x": "independent", "y": "independent"}},
     "concat": [
     {"width": 196, "height": 72,
      "layer": [
       {"data": {"name": "tA"}, "mark": {"type": "bar"},
        "encoding": {
         "x": {"field": "k", "type": "nominal", "scale": {"domain": ["LPS","_1","F|0.1","F|0.5","F|1","F|2","_2","m1|0.1","m1|0.5","m1|1","m1|2","_3","m2|0.1","m2|0.5","m2|1","m2|2","_4","m3|0.1","m3|0.5","m3|1","m3|2","—"], "paddingInner": 0.28, "paddingOuter": 0.34, "align": 0},
               "axis": {"title": null, "labelAngle": -90, "ticks": false, "labelPadding": 3, "labelFontSize": 7.5, "labelOverlap": false, "labelExpr": "indexof(datum.value,'_')==0 ? '' : (indexof(datum.value,'|')>0 ? split(datum.value,'|')[1] : datum.value)"}},
         "y": {"field": "v", "type": "quantitative", "scale": {"domain": [0, 15], "nice": false}, "axis": {"title": "TNF (ng ml⁻¹)", "values": [0, 5, 10, 15], "labelPadding": 2, "minExtent": 24.5, "maxExtent": 24.5, "titlePadding": 2, "labelOverlap": false}},
         "color": {"field": "g", "type": "nominal", "scale": {"domain": ["LPS","F","m1","m2","m3","neg"], "range": ["#000000","#d4d4d4","#a3a3a3","#5e5e5e","#808080","#3a3a3a"]}, "legend": null}
        }},
       {"data": {"name": "tA"}, "mark": {"type": "rule", "color": "#333", "strokeWidth": 0.8}, "encoding": {"x": {"field": "k", "type": "nominal"}, "y": {"field": "v", "type": "quantitative"}, "y2": {"field": "h"}}},
       {"data": {"name": "tA"}, "mark": {"type": "tick", "color": "#333", "size": 4, "thickness": 0.8}, "encoding": {"x": {"field": "k", "type": "nominal"}, "y": {"field": "h", "type": "quantitative"}}},
       {"data": {"name": "tA"}, "transform": [{"filter": "datum.s"}], "mark": {"type": "text", "fontSize": 6, "dy": -4, "color": "#444"}, "encoding": {"x": {"field": "k", "type": "nominal"}, "y": {"field": "h", "type": "quantitative"}, "text": {"field": "s"}}},
       {"data": {"name": "gA"}, "mark": {"type": "rule", "color": "#333", "strokeWidth": 0.8, "xOffset": -6, "x2Offset": 5, "yOffset": 23}, "encoding": {"x": {"field": "f", "type": "nominal"}, "x2": {"field": "l"}, "y": {"value": "height"}}},
       {"data": {"name": "gA"}, "mark": {"type": "text", "fontSize": 9, "baseline": "top", "lineBreak": "\n", "lineHeight": 13.3, "yOffset": 27.5, "dx": 1.3, "color": "#111"}, "encoding": {"x": {"field": "m", "type": "nominal", "bandPosition": 1}, "y": {"value": "height"}, "text": {"field": "t"}}}
      ]
     },
     {"columns": 2, "align": "none", "spacing": 6.7, "resolve": {"scale": {"color": "independent", "shape": "independent", "x": "independent", "y": "independent"}},
      "concat": [
      {"width": 181, "height": 72,
       "layer": [
        {"data": {"name": "tB"}, "mark": {"type": "bar"},
         "encoding": {
          "x": {"field": "k", "type": "nominal", "scale": {"domain": ["LPS","_1","F|0.1","F|0.5","F|1","F|2","_2","m4|0.1","m4|0.5","m4|1","m4|2","_3","m5|0.1","m5|0.5","m5|1","m5|2","_4","m3|1","_5","—"], "paddingInner": 0.3, "paddingOuter": 0.92, "align": 0.5},
                "axis": {"title": null, "labelAngle": -90, "ticks": false, "labelPadding": 3, "labelFontSize": 7.5, "labelOverlap": false, "labelExpr": "indexof(datum.value,'_')==0 ? '' : (indexof(datum.value,'|')>0 ? split(datum.value,'|')[1] : datum.value)"}},
          "y": {"field": "v", "type": "quantitative", "scale": {"domain": [0, 20], "nice": false}, "axis": {"title": "TNF (ng ml⁻¹)", "values": [0, 5, 10, 15, 20], "labelPadding": 0.3, "minExtent": 17, "maxExtent": 17, "titlePadding": 2, "labelOverlap": false}},
          "color": {"field": "g", "type": "nominal", "scale": {"domain": ["LPS","F","m4","m5","m3","neg"], "range": ["#000000","#d4d4d4","#7a7a7a","#cfcfcf","#aaaaaa","#555555"]}, "legend": null}
         }},
        {"data": {"name": "tB"}, "mark": {"type": "rule", "color": "#333", "strokeWidth": 0.8}, "encoding": {"x": {"field": "k", "type": "nominal"}, "y": {"field": "v", "type": "quantitative"}, "y2": {"field": "h"}}},
        {"data": {"name": "tB"}, "mark": {"type": "tick", "color": "#333", "size": 4, "thickness": 0.8}, "encoding": {"x": {"field": "k", "type": "nominal"}, "y": {"field": "h", "type": "quantitative"}}},
        {"data": {"name": "tB"}, "transform": [{"filter": "datum.s"}], "mark": {"type": "text", "fontSize": 6, "dy": -4, "color": "#444"}, "encoding": {"x": {"field": "k", "type": "nominal"}, "y": {"field": "h", "type": "quantitative"}, "text": {"field": "s"}}},
        {"data": {"name": "gB"}, "mark": {"type": "rule", "color": "#333", "strokeWidth": 0.8, "xOffset": -6, "x2Offset": 5, "yOffset": 23}, "encoding": {"x": {"field": "f", "type": "nominal"}, "x2": {"field": "l"}, "y": {"value": "height"}}},
        {"data": {"name": "gB"}, "mark": {"type": "text", "fontSize": 9, "baseline": "top", "lineBreak": "\n", "lineHeight": 13.3, "yOffset": 27.5, "dx": 1.3, "color": "#111"}, "encoding": {"x": {"field": "m", "type": "nominal", "bandPosition": 1}, "y": {"value": "height"}, "text": {"field": "t"}}},
        {"data": {"name": "sB"}, "mark": {"type": "rule", "color": "#333", "strokeWidth": 0.8, "yOffset": 18.5, "y2Offset": 24.5}, "encoding": {"x": {"field": "m", "type": "nominal"}, "y": {"value": "height"}, "y2": {"value": "height"}}},
        {"data": {"name": "sB"}, "mark": {"type": "text", "fontSize": 8.2, "angle": 270, "align": "right", "baseline": "middle", "yOffset": 31.5, "color": "#111"}, "encoding": {"x": {"field": "m", "type": "nominal"}, "y": {"value": "height"}, "text": {"field": "t"}}}
       ]
      },
      {"width": 177, "height": 72,
       "layer": [
        {"data": {"name": "tC"}, "mark": {"type": "bar"},
         "encoding": {
          "x": {"field": "k", "type": "nominal", "scale": {"domain": ["LPS","_1","F|0.1","F|0.5","F|1","F|2","m6|0.1","m6|0.5","m6|1","m6|2","_2","m7|0.1","m7|0.5","m7|1","m7|2","_3","m3|1","_4","—"], "paddingInner": 0.3, "paddingOuter": 0.22, "align": 0.25},
                "axis": {"title": null, "labelAngle": -90, "ticks": false, "labelPadding": 3, "labelFontSize": 7.5, "labelOverlap": false, "labelExpr": "indexof(datum.value,'_')==0 ? '' : (indexof(datum.value,'|')>0 ? split(datum.value,'|')[1] : datum.value)"}},
          "y": {"field": "v", "type": "quantitative", "scale": {"domain": [0, 20], "nice": false}, "axis": {"title": "TNF (ng ml⁻¹)", "values": [0, 5, 10, 15, 20], "labelPadding": 0.4, "minExtent": 20, "maxExtent": 20, "titlePadding": 2, "labelOverlap": false}},
          "color": {"field": "g", "type": "nominal", "scale": {"domain": ["LPS","F","m6","m7","m3","neg"], "range": ["#000000","#a8a8a8","#6a6a6a","#d4d4d4","#aaaaaa","#666666"]}, "legend": null}
         }},
        {"data": {"name": "tC"}, "mark": {"type": "rule", "color": "#333", "strokeWidth": 0.8}, "encoding": {"x": {"field": "k", "type": "nominal"}, "y": {"field": "v", "type": "quantitative"}, "y2": {"field": "h"}}},
        {"data": {"name": "tC"}, "mark": {"type": "tick", "color": "#333", "size": 4, "thickness": 0.8}, "encoding": {"x": {"field": "k", "type": "nominal"}, "y": {"field": "h", "type": "quantitative"}}},
        {"data": {"name": "tC"}, "transform": [{"filter": "datum.s"}], "mark": {"type": "text", "fontSize": 6, "dy": -4, "color": "#444"}, "encoding": {"x": {"field": "k", "type": "nominal"}, "y": {"field": "h", "type": "quantitative"}, "text": {"field": "s"}}},
        {"data": {"name": "gC"}, "mark": {"type": "rule", "color": "#333", "strokeWidth": 0.8, "xOffset": -6, "x2Offset": 5, "yOffset": 23}, "encoding": {"x": {"field": "f", "type": "nominal"}, "x2": {"field": "l"}, "y": {"value": "height"}}},
        {"data": {"name": "gC"}, "mark": {"type": "text", "fontSize": 9, "baseline": "top", "lineBreak": "\n", "lineHeight": 13.3, "yOffset": 27.5, "dx": 1.3, "color": "#111"}, "encoding": {"x": {"field": "m", "type": "nominal", "bandPosition": 1}, "y": {"value": "height"}, "text": {"field": "t"}}},
        {"data": {"name": "sC"}, "mark": {"type": "rule", "color": "#333", "strokeWidth": 0.8, "yOffset": 20, "y2Offset": 27}, "encoding": {"x": {"field": "m", "type": "nominal"}, "y": {"value": "height"}, "y2": {"value": "height"}}},
        {"data": {"name": "sC"}, "mark": {"type": "text", "fontSize": 8.2, "angle": 270, "align": "right", "baseline": "middle", "yOffset": 31.5, "color": "#111"}, "encoding": {"x": {"field": "m", "type": "nominal"}, "y": {"value": "height"}, "text": {"field": "t"}}}
       ]
      }
     ]}
    ]}
   ]},
   {"columns": 2, "align": "none", "spacing": 16.7, "resolve": {"scale": {"color": "independent", "shape": "independent", "x": "independent", "y": "independent"}},
    "concat": [
    {"width": 1, "height": 1, "view": {"fill": "white"}, "data": {"values": []}, "mark": {"type": "point", "opacity": 0}},
    {"columns": 2, "align": "none", "spacing": 22.6, "resolve": {"scale": {"color": "independent", "shape": "independent", "x": "independent", "y": "independent"}},
     "concat": [
     {"width": 119, "height": 78.5,
      "data": {"name": "lA"},
      "encoding": {
       "x": {"field": "x", "type": "quantitative", "scale": {"domain": [0, 30], "nice": false}, "axis": {"title": "TLR4 (μg ml⁻¹)", "values": [0, 10, 20, 30], "titleFontSize": 10, "labelPadding": 2, "titlePadding": 4}},
       "y": {"field": "v", "type": "quantitative", "scale": {"domain": [0, 2], "nice": false}, "axis": {"title": "OD 450 nm", "values": [0, 0.5, 1, 1.5, 2], "format": ".1f", "labelPadding": 0, "minExtent": 19.7, "maxExtent": 19.7, "titlePadding": 2}}
      },
      "layer": [
       {"mark": {"type": "line", "interpolate": "monotone", "strokeWidth": 1}, "encoding": {"detail": {"field": "s"}, "color": {"condition": {"test": "datum.s=='PBS'", "value": "#777"}, "value": "#222"}}},
       {"transform": [{"filter": "isValid(datum.lo)"}], "mark": {"type": "rule", "strokeWidth": 0.8, "color": "#222"}, "encoding": {"y": {"field": "lo", "type": "quantitative"}, "y2": {"field": "hi"}}},
       {"transform": [{"filter": "isValid(datum.lo)"}], "mark": {"type": "tick", "orient": "horizontal", "size": 4, "thickness": 0.8, "color": "#222"}, "encoding": {"y": {"field": "hi", "type": "quantitative"}}},
       {"transform": [{"filter": "isValid(datum.lo)"}], "mark": {"type": "tick", "orient": "horizontal", "size": 4, "thickness": 0.8, "color": "#222"}, "encoding": {"y": {"field": "lo", "type": "quantitative"}}},
       {"transform": [{"filter": "datum.s!='PBS'"}], "mark": {"type": "point", "filled": true, "size": 16, "opacity": 1},
        "encoding": {
         "color": {"field": "s", "type": "nominal", "scale": {"domain": ["FBG-C","FBG-C mut 1","FBG-C mut 2","FBG-C mut 3","PBS"], "range": ["#111111","#3f63ad","#e8474c","#7f3f98","#222222"]}, "legend": {"title": null, "orient": "none", "legendX": 122.5, "legendY": 19.5, "labelFontSize": 8, "symbolSize": 16, "rowPadding": 1, "padding": 0, "labelOffset": 4, "symbolStrokeWidth": 0.8}},
         "shape": {"field": "s", "type": "nominal", "scale": {"domain": ["FBG-C","FBG-C mut 1","FBG-C mut 2","FBG-C mut 3","PBS"], "range": ["circle","square","triangle-up","triangle-down","square"]}, "legend": {"title": null, "orient": "none", "legendX": 122.5, "legendY": 19.5, "labelFontSize": 8, "symbolSize": 16, "rowPadding": 1, "padding": 0, "labelOffset": 4, "symbolStrokeWidth": 0.8}}
        }},
       {"transform": [{"filter": "datum.s=='PBS'"}], "mark": {"type": "point", "filled": false, "shape": "square", "size": 16, "color": "#222", "strokeWidth": 1, "opacity": 1}}
      ]
     },
     {"columns": 2, "align": "none", "spacing": 18.4, "resolve": {"scale": {"color": "independent", "shape": "independent", "x": "independent", "y": "independent"}},
      "concat": [
      {"width": 114.3, "height": 79.5,
       "data": {"name": "lB"},
       "encoding": {
        "x": {"field": "x", "type": "quantitative", "scale": {"domain": [0, 30], "nice": false}, "axis": {"title": "TLR4 (μg ml⁻¹)", "values": [0, 10, 20, 30], "titleFontSize": 10, "labelPadding": 2, "titlePadding": 4}},
        "y": {"field": "v", "type": "quantitative", "scale": {"domain": [0, 1.5], "nice": false}, "axis": {"title": "OD 450 nm", "values": [0, 0.5, 1, 1.5], "format": ".1f", "labelPadding": 2, "minExtent": 18.6, "maxExtent": 18.6, "titlePadding": 2}}
       },
       "layer": [
        {"mark": {"type": "line", "interpolate": "monotone", "strokeWidth": 1}, "encoding": {"detail": {"field": "s"}, "color": {"condition": {"test": "datum.s=='PBS'", "value": "#888"}, "value": "#222"}}},
        {"transform": [{"filter": "isValid(datum.lo)"}], "mark": {"type": "rule", "strokeWidth": 0.8, "color": "#222"}, "encoding": {"y": {"field": "lo", "type": "quantitative"}, "y2": {"field": "hi"}}},
        {"transform": [{"filter": "isValid(datum.lo)"}], "mark": {"type": "tick", "orient": "horizontal", "size": 4, "thickness": 0.8, "color": "#222"}, "encoding": {"y": {"field": "hi", "type": "quantitative"}}},
        {"transform": [{"filter": "isValid(datum.lo)"}], "mark": {"type": "tick", "orient": "horizontal", "size": 4, "thickness": 0.8, "color": "#222"}, "encoding": {"y": {"field": "lo", "type": "quantitative"}}},
        {"mark": {"type": "point", "filled": true, "size": 16, "opacity": 1},
         "encoding": {
          "color": {"field": "s", "type": "nominal", "scale": {"domain": ["FBG-C","FBG-C mut 3","FBG-C mut 4","FBG-C mut 5","PBS"], "range": ["#111111","#222222","#e8474c","#3f63ad","#8a8a8a"]}, "legend": {"title": null, "orient": "none", "legendX": 117, "legendY": 0, "labelFontSize": 8, "symbolSize": 16, "rowPadding": 2.3, "padding": 0, "labelOffset": 4, "symbolStrokeWidth": 0.8}},
          "shape": {"field": "s", "type": "nominal", "scale": {"domain": ["FBG-C","FBG-C mut 3","FBG-C mut 4","FBG-C mut 5","PBS"], "range": ["circle","triangle-down","triangle-up","square","circle"]}, "legend": {"title": null, "orient": "none", "legendX": 117, "legendY": 0, "labelFontSize": 8, "symbolSize": 16, "rowPadding": 2.3, "padding": 0, "labelOffset": 4, "symbolStrokeWidth": 0.8}}
         }}
       ]
      },
      {"width": 113.3, "height": 79.5,
       "data": {"name": "lC"},
       "encoding": {
        "x": {"field": "x", "type": "quantitative", "scale": {"domain": [0, 30], "nice": false}, "axis": {"title": "TLR4 (μg ml⁻¹)", "values": [0, 10, 20, 30], "titleFontSize": 10, "labelPadding": 2, "titlePadding": 4}},
        "y": {"field": "v", "type": "quantitative", "scale": {"domain": [0, 1.5], "nice": false}, "axis": {"title": "OD 450 nm", "values": [0, 0.5, 1, 1.5], "format": ".1f", "labelPadding": 3, "minExtent": 19.7, "maxExtent": 19.7, "titlePadding": 2}}
       },
       "layer": [
        {"mark": {"type": "line", "interpolate": "monotone", "strokeWidth": 1}, "encoding": {"detail": {"field": "s"}, "color": {"field": "s", "type": "nominal", "scale": {"domain": ["FBG-C","FBG-C mut 3","FBG-C mut 6","FBG-C mut 7","PBS"], "range": ["#111111","#3f63ad","#3db54a","#e8474c","#8a8a8a"]}, "legend": null}}},
        {"transform": [{"filter": "isValid(datum.lo)"}], "mark": {"type": "rule", "strokeWidth": 0.8}, "encoding": {"y": {"field": "lo", "type": "quantitative"}, "y2": {"field": "hi"}, "color": {"field": "s", "type": "nominal", "legend": null}}},
        {"transform": [{"filter": "isValid(datum.lo)"}], "mark": {"type": "tick", "orient": "horizontal", "size": 4, "thickness": 0.8}, "encoding": {"y": {"field": "hi", "type": "quantitative"}, "color": {"field": "s", "type": "nominal", "legend": null}}},
        {"transform": [{"filter": "isValid(datum.lo)"}], "mark": {"type": "tick", "orient": "horizontal", "size": 4, "thickness": 0.8}, "encoding": {"y": {"field": "lo", "type": "quantitative"}, "color": {"field": "s", "type": "nominal", "legend": null}}},
        {"mark": {"type": "point", "filled": true, "size": 16, "opacity": 1},
         "encoding": {
          "color": {"field": "s", "type": "nominal", "legend": {"title": null, "orient": "none", "legendX": 117, "legendY": 0, "labelFontSize": 8, "symbolSize": 16, "rowPadding": 2.3, "padding": 0, "labelOffset": 4, "symbolStrokeWidth": 0.8}},
          "shape": {"field": "s", "type": "nominal", "scale": {"domain": ["FBG-C","FBG-C mut 3","FBG-C mut 6","FBG-C mut 7","PBS"], "range": ["circle","square","triangle-up","triangle-up","circle"]}, "legend": {"title": null, "orient": "none", "legendX": 117, "legendY": 0, "labelFontSize": 8, "symbolSize": 16, "rowPadding": 2.3, "padding": 0, "labelOffset": 4, "symbolStrokeWidth": 0.8}}
         }}
       ]
      }
     ]}
    ]}
   ]}
  ]}
 ]}
]
}
